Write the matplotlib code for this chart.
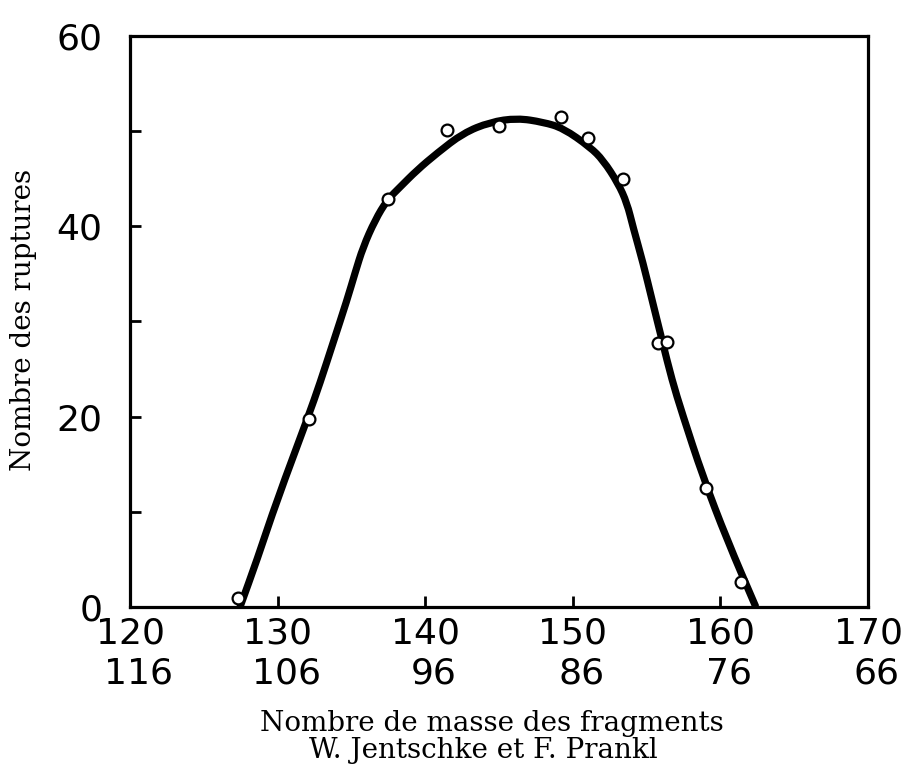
"""Distribution des ruptures en fonction du nombre de masse des fragments."""

import matplotlib

matplotlib.use("Agg")
import matplotlib.pyplot as plt
from matplotlib.patches import PathPatch
from matplotlib.path import Path
from matplotlib.ticker import FixedLocator, NullFormatter

# mesures (cercles)
masse_points = [127.3, 132.1, 137.5, 141.5, 145.0, 149.2, 151.0, 153.4,
                155.8, 156.4, 159.0, 161.4]
ruptures_points = [0.9, 19.8, 42.9, 50.1, 50.5, 51.5, 49.3, 45.0,
                   27.7, 27.8, 12.5, 2.6]

# courbe tracée à la main
masse_courbe = [127.45, 128.6, 129.96, 132.06, 132.87, 133.75, 134.7, 135.24,
                135.79, 136.6, 137.41, 138.29, 139.44, 140.8, 142.56, 144.39,
                146.22, 147.98, 149.34, 151.17, 152.05, 153.06, 153.67, 154.08,
                154.76, 155.37, 156.04, 156.72, 157.4, 158.82, 160.45, 162.4]
ruptures_courbe = [0.0, 4.94, 11.24, 19.96, 23.53, 27.73, 32.25, 35.08,
                   37.82, 40.65, 42.75, 44.12, 45.9, 47.69, 49.79, 50.95,
                   51.37, 50.95, 50.32, 48.32, 46.95, 44.54, 42.44, 39.92,
                   36.13, 32.25, 28.05, 23.84, 20.38, 13.66, 7.04, 0.0]

# deux rangées de graduations : masse du fragment et masse complémentaire
graduations_x = [120, 130, 140, 150, 160, 170]
labels_haut = ["120", "130", "140", "150", "160", "170"]
labels_bas = ["116", "106", "96", "86", "76", "66"]
graduations_y = [0, 20, 40, 60]
graduations_y_mineures = [10, 30, 50]


def smooth_path(xs, ys):
    """Quadratic Bezier path using the read points as control points."""
    pts = list(zip(xs, ys))
    verts = [pts[0]]
    codes = [Path.MOVETO]
    mid = lambda a, b: ((a[0] + b[0]) / 2, (a[1] + b[1]) / 2)
    verts.append(mid(pts[0], pts[1]))
    codes.append(Path.LINETO)
    for i in range(1, len(pts) - 1):
        verts += [pts[i], mid(pts[i], pts[i + 1])]
        codes += [Path.CURVE3, Path.CURVE3]
    verts.append(pts[-1])
    codes.append(Path.LINETO)
    return Path(verts, codes)


fig = plt.figure(figsize=(9.08, 7.76), dpi=100)
ax = fig.add_axes([0.1432, 0.2178, 0.8128, 0.7358])

ax.add_patch(PathPatch(smooth_path(masse_courbe, ruptures_courbe),
                       facecolor="none", edgecolor="black", linewidth=5.2,
                       capstyle="butt", joinstyle="round", zorder=2))
ax.plot(masse_points, ruptures_points, linestyle="none", marker="o",
        markersize=8.5, markerfacecolor="white", markeredgecolor="black",
        markeredgewidth=1.6, zorder=3)

ax.set_xlim(120, 170)
ax.set_ylim(0, 60)

for side in ["left", "right", "top", "bottom"]:
    ax.spines[side].set_linewidth(2.3)

ax.xaxis.set_major_locator(FixedLocator(graduations_x[1:-1]))
ax.xaxis.set_major_formatter(NullFormatter())
ax.tick_params(axis="x", direction="in", length=8, width=2.0)

ax.set_yticks(graduations_y)
ax.set_yticklabels([str(v) for v in graduations_y])
ax.yaxis.set_minor_locator(FixedLocator(graduations_y_mineures))
ax.tick_params(axis="y", which="both", direction="in", length=8, width=2.0,
               labelsize=26, pad=20)

for x, haut, bas in zip(graduations_x, labels_haut, labels_bas):
    ax.text(x, -2.8, haut, ha="center", va="center", fontsize=26,
            transform=ax.transData, clip_on=False)
    ax.text(x + 0.6, -7.0, bas, ha="center", va="center", fontsize=26,
            transform=ax.transData, clip_on=False)

serif = "DejaVu Serif"
fig.text(0.026, 0.588, "Nombre des ruptures", rotation=90, ha="center",
         va="center", fontsize=20, family=serif)
fig.text(0.542, 0.068, "Nombre de masse des fragments", ha="center",
         va="center", fontsize=20, family=serif)
fig.text(0.532, 0.033, "W. Jentschke et F. Prankl", ha="center",
         va="center", fontsize=20, family=serif)

fig.savefig("out.png", dpi=100)
